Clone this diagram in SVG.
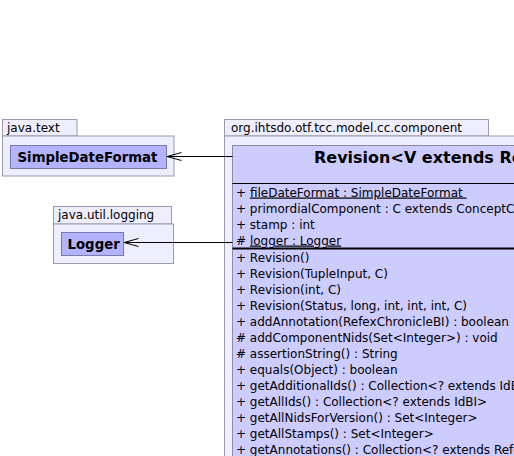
<svg xmlns="http://www.w3.org/2000/svg" width="514" height="456" viewBox="0 0 514 456">
<defs>
<style>
.pkg{fill:#eeeeff;stroke:#9a9ab0;stroke-width:1}
.cls{fill:#b3b3ff;stroke:#7a7aaa;stroke-width:1}
.main{fill:#ccccff;stroke:#8a8aaa;stroke-width:1}
text{font-family:"DejaVu Sans",Verdana,sans-serif;font-size:12px;fill:#000}
.b{font-weight:bold;font-size:13.3px}
.title{font-weight:bold;font-size:16px}
.edge{stroke:#000;stroke-width:1;fill:none}
</style>
<marker id="open" viewBox="0 0 16 10" refX="15" refY="5" markerWidth="16" markerHeight="10" markerUnits="userSpaceOnUse" orient="auto">
<path d="M0.5,1 L15,5 L0.5,9" fill="none" stroke="#000" stroke-width="1"/>
</marker>
</defs>
<rect width="514" height="456" fill="#fff"/>
<g id="pkg-java-text">
<rect class="pkg" x="2.5" y="119.5" width="74.5" height="16.5"/>
<rect class="pkg" x="2.5" y="136" width="171.5" height="40"/>
<text x="7" y="131.5">java.text</text>
</g>
<g id="SimpleDateFormat">
<rect class="cls" x="10.5" y="145.5" width="156" height="23"/>
<text class="b" x="17.5" y="161.5">SimpleDateFormat</text>
</g>
<g id="pkg-java-util-logging">
<rect class="pkg" x="53.5" y="206.5" width="118" height="17.5"/>
<rect class="pkg" x="53.5" y="224" width="120" height="39.5"/>
<text x="58" y="219">java.util.logging</text>
</g>
<g id="Logger">
<rect class="cls" x="61.5" y="232.5" width="62" height="23"/>
<text class="b" x="67.5" y="248.5">Logger</text>
</g>
<g id="pkg-component">
<rect class="pkg" x="224.5" y="119.5" width="264" height="16.5"/>
<rect class="pkg" x="224.5" y="136" width="300" height="330"/>
<text x="231" y="131.5">org.ihtsdo.otf.tcc.model.cc.component</text>
</g>
<g id="Revision">
<rect class="main" x="232.5" y="145.5" width="300" height="320"/>
<text class="title" x="314" y="162.5">Revision&lt;V extends RevisionAnalog</text>
<line x1="232.5" y1="183.5" x2="514" y2="183.5" stroke="#000" stroke-width="1"/>
<text x="236" y="196.5">+ <tspan text-decoration="underline">fileDateFormat : SimpleDateFormat&#160;</tspan></text>
<text x="236" y="212.5">+ primordialComponent : C extends ConceptComponent</text>
<text x="236" y="228.5">+ stamp : int</text>
<text x="236" y="244.5"># <tspan text-decoration="underline">logger : Logger</tspan></text>
<line x1="232.5" y1="248.5" x2="514" y2="248.5" stroke="#000" stroke-width="2"/>
<text x="236" y="261.5">+ Revision()</text>
<text x="236" y="277.5">+ Revision(TupleInput, C)</text>
<text x="236" y="293.5">+ Revision(int, C)</text>
<text x="236" y="309.5">+ Revision(Status, long, int, int, int, C)</text>
<text x="236" y="325.5">+ addAnnotation(RefexChronicleBI) : boolean</text>
<text x="236" y="341.5"># addComponentNids(Set&lt;Integer&gt;) : void</text>
<text x="236" y="357.5"># assertionString() : String</text>
<text x="236" y="373.5">+ equals(Object) : boolean</text>
<text x="236" y="389.5">+ getAdditionalIds() : Collection&lt;? extends IdBI&gt;</text>
<text x="236" y="405.5">+ getAllIds() : Collection&lt;? extends IdBI&gt;</text>
<text x="236" y="421.5">+ getAllNidsForVersion() : Set&lt;Integer&gt;</text>
<text x="236" y="437.5">+ getAllStamps() : Set&lt;Integer&gt;</text>
<text x="236" y="453.5">+ getAnnotations() : Collection&lt;? extends RefexChronicleBI&gt;</text>
</g>
<g id="connectors">
<line class="edge" x1="232.5" y1="156.5" x2="167" y2="156.5" marker-end="url(#open)"/>
<line class="edge" x1="232.5" y1="242.5" x2="124" y2="242.5" marker-end="url(#open)"/>
</g>
</svg>
